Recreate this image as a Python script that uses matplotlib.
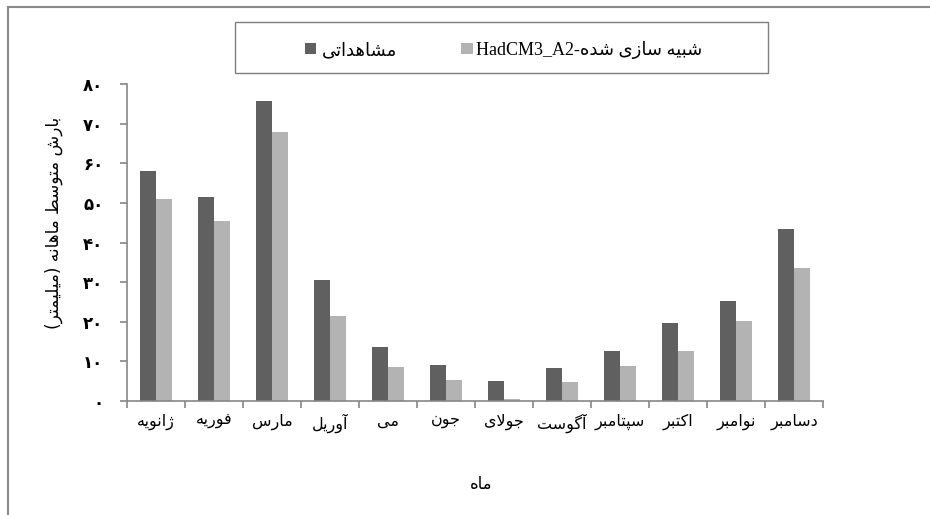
import matplotlib
matplotlib.use("Agg")
import matplotlib.pyplot as plt
import numpy as np
from matplotlib.patches import Rectangle
from matplotlib.lines import Line2D

plt.rcParams["font.family"] = ["DejaVu Sans"]

months = ["ژانویه", "فوریه", "مارس", "آوریل", "می", "جون",
          "جولای", "آگوست", "سپتامبر", "اکتبر", "نوامبر", "دسامبر"]
observed = [58.1, 51.4, 75.8, 30.5, 13.6, 9.2, 5.1, 8.4, 12.6, 19.7, 25.3, 43.3]
simulated = [51.0, 45.5, 68.0, 21.5, 8.6, 5.2, 0.5, 4.7, 8.8, 12.6, 20.2, 33.5]
yticks = [0, 10, 20, 30, 40, 50, 60, 70, 80]

obs_label = "مشاهداتی"
sim_label_fa = "شبیه سازی شده"
sim_label_en = "HadCM3_A2"
xlabel = "ماه"
ylabel = "بارش متوسط ماهانه (میلیمتر)"

# presentation forms: isolated, final, initial, medial
FORMS = {
    "ا": "\uFE8D\uFE8E", "آ": "\uFE81\uFE82",
    "ب": "\uFE8F\uFE90\uFE91\uFE92", "پ": "\uFB56\uFB57\uFB58\uFB59",
    "ت": "\uFE95\uFE96\uFE97\uFE98", "ج": "\uFE9D\uFE9E\uFE9F\uFEA0",
    "د": "\uFEA9\uFEAA", "ر": "\uFEAD\uFEAE", "ز": "\uFEAF\uFEB0",
    "ژ": "\uFB8A\uFB8B", "س": "\uFEB1\uFEB2\uFEB3\uFEB4",
    "ش": "\uFEB5\uFEB6\uFEB7\uFEB8", "ط": "\uFEC1\uFEC2\uFEC3\uFEC4",
    "ف": "\uFED1\uFED2\uFED3\uFED4", "ک": "\uFB8E\uFB8F\uFB90\uFB91",
    "گ": "\uFB92\uFB93\uFB94\uFB95", "ل": "\uFEDD\uFEDE\uFEDF\uFEE0",
    "م": "\uFEE1\uFEE2\uFEE3\uFEE4", "ن": "\uFEE5\uFEE6\uFEE7\uFEE8",
    "و": "\uFEED\uFEEE", "ه": "\uFEE9\uFEEA\uFEEB\uFEEC",
    "ی": "\uFBFC\uFBFD\uFBFE\uFBFF",
}
LAM_ALEF = {"ا": "\uFEFB\uFEFC", "آ": "\uFEF5\uFEF6"}


def dual(c):
    return c in FORMS and len(FORMS[c]) == 4


def fa(text):
    """Shape Persian text and return it in visual (left-to-right) order."""
    out = []
    i = 0
    n = len(text)
    while i < n:
        c = text[i]
        if c not in FORMS:
            out.append(c)
            i += 1
            continue
        prev_joins = i > 0 and dual(text[i - 1])
        nxt = text[i + 1] if i + 1 < n else ""
        if c == "ل" and nxt in LAM_ALEF:
            out.append(LAM_ALEF[nxt][1 if prev_joins else 0])
            i += 2
            continue
        next_joins = dual(c) and nxt in FORMS
        if prev_joins and next_joins:
            k = 3
        elif prev_joins:
            k = 1
        elif next_joins:
            k = 2
        else:
            k = 0
        out.append(FORMS[c][k])
        i += 1
    vis = "".join(reversed(out))
    return vis.translate(str.maketrans("()", ")("))


def fa_digits(v):
    return str(v).translate(str.maketrans("0123456789", "۰۱۲۳۴۵۶۷۸۹"))


W, H = 930, 515


def fx(x):
    return x / W


def fy(y):
    return 1 - y / H


fig = plt.figure(figsize=(9.3, 5.15), dpi=100)
ax = fig.add_axes([fx(127), fy(401), (823 - 127) / W, (401 - 84) / H])

x = np.arange(len(months))
w = 0.276
ax.bar(x - w / 2, observed, w, color="#606060")
ax.bar(x + w / 2, simulated, w, color="#b3b3b3")

ax.set_xlim(-0.5, len(months) - 0.5)
ax.set_ylim(0, 80)
axis_col = "#868686"
for s in ["top", "right"]:
    ax.spines[s].set_visible(False)
for s in ["left", "bottom"]:
    ax.spines[s].set_color(axis_col)
    ax.spines[s].set_linewidth(1.2)

ax.set_xticks(x)
ax.set_xticklabels([fa(m) for m in months], fontsize=11.5)
ax.set_xticks(np.arange(-0.5, len(months), 1), minor=True)
ax.tick_params(axis="x", which="major", length=0, pad=9)
ax.tick_params(axis="x", which="minor", length=5, color=axis_col, width=1.2)
ax.set_yticks(yticks)
ax.set_yticklabels([fa_digits(v) for v in yticks], fontsize=12, fontweight="bold")
ax.tick_params(axis="y", length=5, color=axis_col, width=1.2, pad=12)

fig.text(fx(481), fy(484), fa(xlabel), fontsize=12, ha="center", va="center")
fig.text(fx(54), fy(223), fa(ylabel), fontsize=12.2, ha="center", va="center",
         rotation=90)

# legend box
fig.add_artist(Rectangle((fx(235), fy(72.7)), (768 - 235) / W, (72.7 - 21.7) / H,
                         transform=fig.transFigure, fill=False,
                         edgecolor="#7f7f7f", lw=1.0))
fig.add_artist(Rectangle((fx(305), fy(54)), 11 / W, 11 / H,
                         transform=fig.transFigure, color="#606060", lw=0))
fig.text(fx(322), fy(55), fa(obs_label), fontsize=13, ha="left", va="baseline")
fig.add_artist(Rectangle((fx(461), fy(54)), 12 / W, 11 / H,
                         transform=fig.transFigure, color="#b3b3b3", lw=0))
fig.text(fx(476), fy(55), sim_label_en + "-" + fa(sim_label_fa), fontsize=13,
         ha="left", va="baseline", family=["Liberation Serif", "DejaVu Sans"])

# outer chart frame (partly outside the image)
fig.add_artist(Line2D([fx(8), 1.0], [fy(7.3), fy(7.3)], transform=fig.transFigure,
                      color="#8a8a8a", lw=1.5))
fig.add_artist(Line2D([fx(8), fx(8)], [fy(7.3), 0.0], transform=fig.transFigure,
                      color="#8a8a8a", lw=1.5))

fig.savefig("out.png", dpi=100)
